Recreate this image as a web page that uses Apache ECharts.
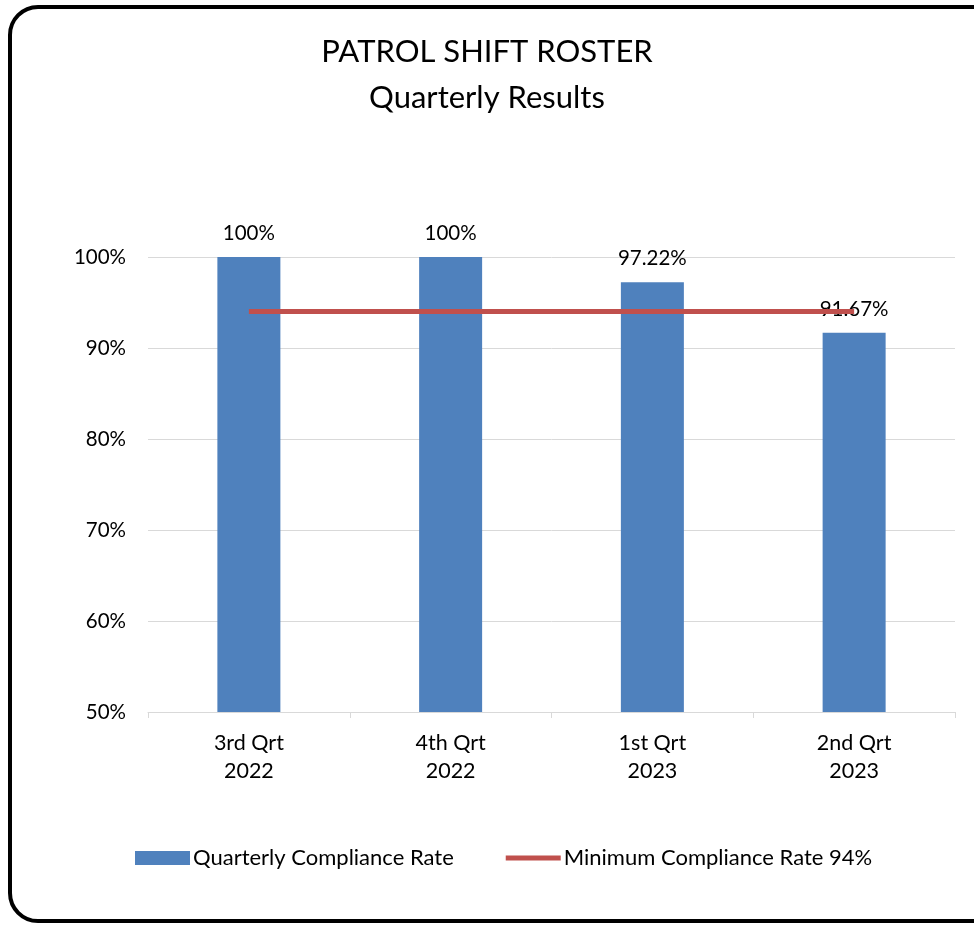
<!DOCTYPE html>
<html>
<head>
<meta charset="utf-8">
<script src="https://cdn.jsdelivr.net/npm/echarts@6/dist/echarts.min.js"></script>
<style>
html,body{margin:0;padding:0;background:#fff;}
#chart{width:974px;height:926px;}
</style>
</head>
<body>
<div id="chart"></div>
<script>
var categories = ['3rd Qrt\n2022', '4th Qrt\n2022', '1st Qrt\n2023', '2nd Qrt\n2023'];
var complianceRate = [100, 100, 97.22, 91.67];
var minimumRate = [94, 94, 94, 94];
var barLabels = ['100%', '100%', '97.22%', '91.67%'];
var seriesNames = ['Quarterly Compliance Rate', 'Minimum Compliance Rate 94%'];
var titleLines = ['PATROL SHIFT ROSTER', 'Quarterly Results'];

var FONT = 'Lato, "Liberation Sans", sans-serif';
var chart = echarts.init(document.getElementById('chart'));
chart.setOption({
  animation: false,
  textStyle: {fontFamily: FONT},
  title: {
    text: titleLines.join('\n'),
    left: 'center',
    top: 24,
    textStyle: {fontFamily: FONT, fontSize: 31, fontWeight: 'normal', color: '#000', lineHeight: 46}
  },
  graphic: [{
    type: 'rect',
    shape: {x: 10, y: 7, width: 990, height: 914, r: 28},
    style: {fill: 'none', stroke: '#000', lineWidth: 4},
    z: 100
  }],
  legend: {
    bottom: 52,
    left: 130,
    itemGap: 52,
    itemWidth: 55,
    itemHeight: 14,
    textStyle: {fontFamily: FONT, fontSize: 22, color: '#000', padding: [0,0,0,-2]},
    data: [
      {name: seriesNames[0], icon: 'rect', itemStyle: {}},
      {name: seriesNames[1], icon: 'path://M0,0 L55,0 L55,5 L0,5 Z'}
    ]
  },
  grid: {left: 148, right: 19, top: 257, bottom: 214, containLabel: false},
  xAxis: {
    type: 'category',
    data: categories,
    axisLine: {lineStyle: {color: '#d9d9d9', width: 1}},
    axisTick: {show: true, length: 6, lineStyle: {color: '#d9d9d9'}},
    axisLabel: {fontFamily: FONT, fontSize: 21.5, color: '#000', margin: 17, lineHeight: 28}
  },
  yAxis: {
    type: 'value',
    min: 50, max: 100, interval: 10,
    axisLine: {show: false},
    axisTick: {show: false},
    splitLine: {lineStyle: {color: '#d9d9d9', width: 1}},
    axisLabel: {fontFamily: FONT, fontSize: 20.5, color: '#000', margin: 22, formatter: '{value}%'}
  },
  series: [
    {
      name: seriesNames[0],
      type: 'bar',
      data: complianceRate,
      barWidth: 63,
      itemStyle: {color: '#4F81BD'},
      label: {
        show: true,
        position: 'top',
        distance: 13,
        fontFamily: FONT,
        fontSize: 20.5,
        color: '#000',
        formatter: function (p) { return barLabels[p.dataIndex]; }
      },
      z: 2
    },
    {
      name: seriesNames[1],
      type: 'line',
      data: minimumRate,
      symbol: 'none',
      showSymbol: false,
      lineStyle: {color: '#C0504D', width: 5},
      itemStyle: {color: '#C0504D'},
      z: 3
    }
  ]
});
</script>
</body>
</html>
